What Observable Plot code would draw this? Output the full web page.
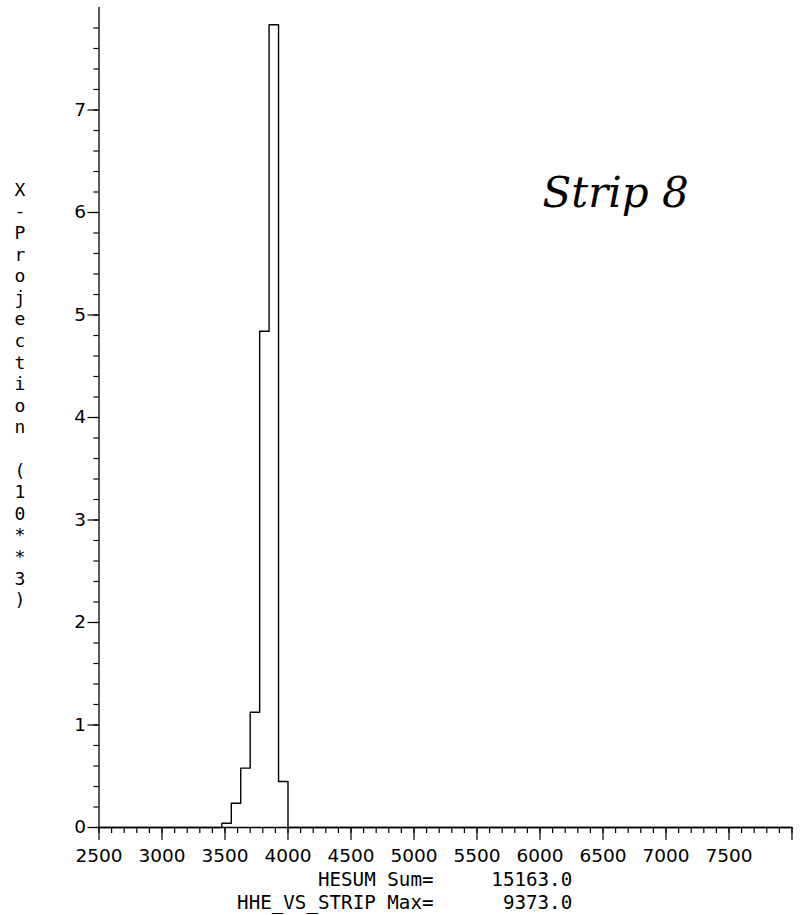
<!DOCTYPE html>
<html><head><meta charset="utf-8">
<script src="https://cdn.jsdelivr.net/npm/d3@7"></script>
<script src="https://cdn.jsdelivr.net/npm/@observablehq/plot@0.6"></script>
<style>body{margin:0;background:#fff} svg{display:block}</style>
</head><body><div id="chart"></div>
<script>
// Histogram bins (HESUM) and counts in units of 10**3
const binEdges = [3475, 3550, 3625, 3700, 3775, 3850, 3925, 4000];
const binCounts = [0.042, 0.237, 0.579, 1.125, 4.842, 7.831, 0.449];
const xMajorTicks = [2500, 3000, 3500, 4000, 4500, 5000, 5500, 6000, 6500, 7000, 7500, 8000];
const xTickLabels = ["2500", "3000", "3500", "4000", "4500", "5000", "5500", "6000", "6500", "7000", "7500", ""];
const yMajorTicks = [0, 1, 2, 3, 4, 5, 6, 7];
const yLabel = "X-Projection (10**3)";
const statLabels = ["HESUM Sum=", "HHE_VS_STRIP Max="];
const statValues = ["15163.0", "9373.0"];
const note = [{text: "Strip 8", x: 6600, y: 6.05}];

const stepData = [{x: 2500, y: 0}]
  .concat(binCounts.map((c, i) => ({x: binEdges[i], y: c})))
  .concat([{x: binEdges[binEdges.length - 1], y: 0}, {x: 8000, y: 0}]);

const xMinor = d3.range(25, 81).map(i => i * 100);
const yMinor = d3.range(0, 40).map(i => i / 5);

const plot = Plot.plot({
  width: 801, height: 915,
  marginLeft: 98.5, marginRight: 9.5, marginTop: 7, marginBottom: 88,
  x: {domain: [2500, 8000]},
  y: {domain: [0, 8]},
  style: {fontFamily: "DejaVu Sans", fontSize: "18px", color: "#000", background: "#fff"},
  marks: [
    Plot.axisX({ticks: xMinor, tickSize: 6, tickFormat: () => "", strokeWidth: 1.2, label: null}),
    Plot.axisX({ticks: xMajorTicks, tickSize: 13, tickPadding: 8, strokeWidth: 1.2, fontSize: 18.5,
      tickFormat: d => xTickLabels[xMajorTicks.indexOf(d)], label: null}),
    Plot.axisY({ticks: yMinor, tickSize: 5, tickFormat: () => "", strokeWidth: 1.2, label: null}),
    Plot.axisY({ticks: yMajorTicks, tickSize: 11, tickPadding: 2, strokeWidth: 1.2, fontSize: 18.5, label: null}),
    Plot.ruleX([2500], {y1: 0, y2: 8, stroke: "black", strokeWidth: 1.3}),
    Plot.ruleY([0], {x1: 2500, x2: 8000, stroke: "black", strokeWidth: 1.3}),
    Plot.line(stepData, {x: "x", y: "y", curve: "step-after", stroke: "black", strokeWidth: 1.4}),
    Plot.text([yLabel], {text: d => d.split("").join("\n"), frameAnchor: "left", dx: -79, dy: -23.5,
      fontFamily: "DejaVu Sans Mono", fontSize: 18, lineHeight: 1.2, textAnchor: "middle", fill: "black"}),
    Plot.text(note, {x: "x", y: "y", text: "text", lineAnchor: "bottom", fontFamily: "DejaVu Serif",
      fontStyle: "italic", fontSize: 42, fill: "black"}),
    ...statLabels.flatMap((lab, i) => [
      Plot.text([lab], {frameAnchor: "bottom-left", dx: 334.5, dy: 58 + 23 * i, textAnchor: "end",
        lineAnchor: "bottom", fontFamily: "DejaVu Sans Mono", fontSize: 19.2, fill: "black"}),
      Plot.text([statValues[i]], {frameAnchor: "bottom-left", dx: 473.2, dy: 58 + 23 * i, textAnchor: "end",
        lineAnchor: "bottom", fontFamily: "DejaVu Sans Mono", fontSize: 19.2, fill: "black"})
    ])
  ]
});
document.getElementById("chart").appendChild(plot);
</script>
</body></html>
